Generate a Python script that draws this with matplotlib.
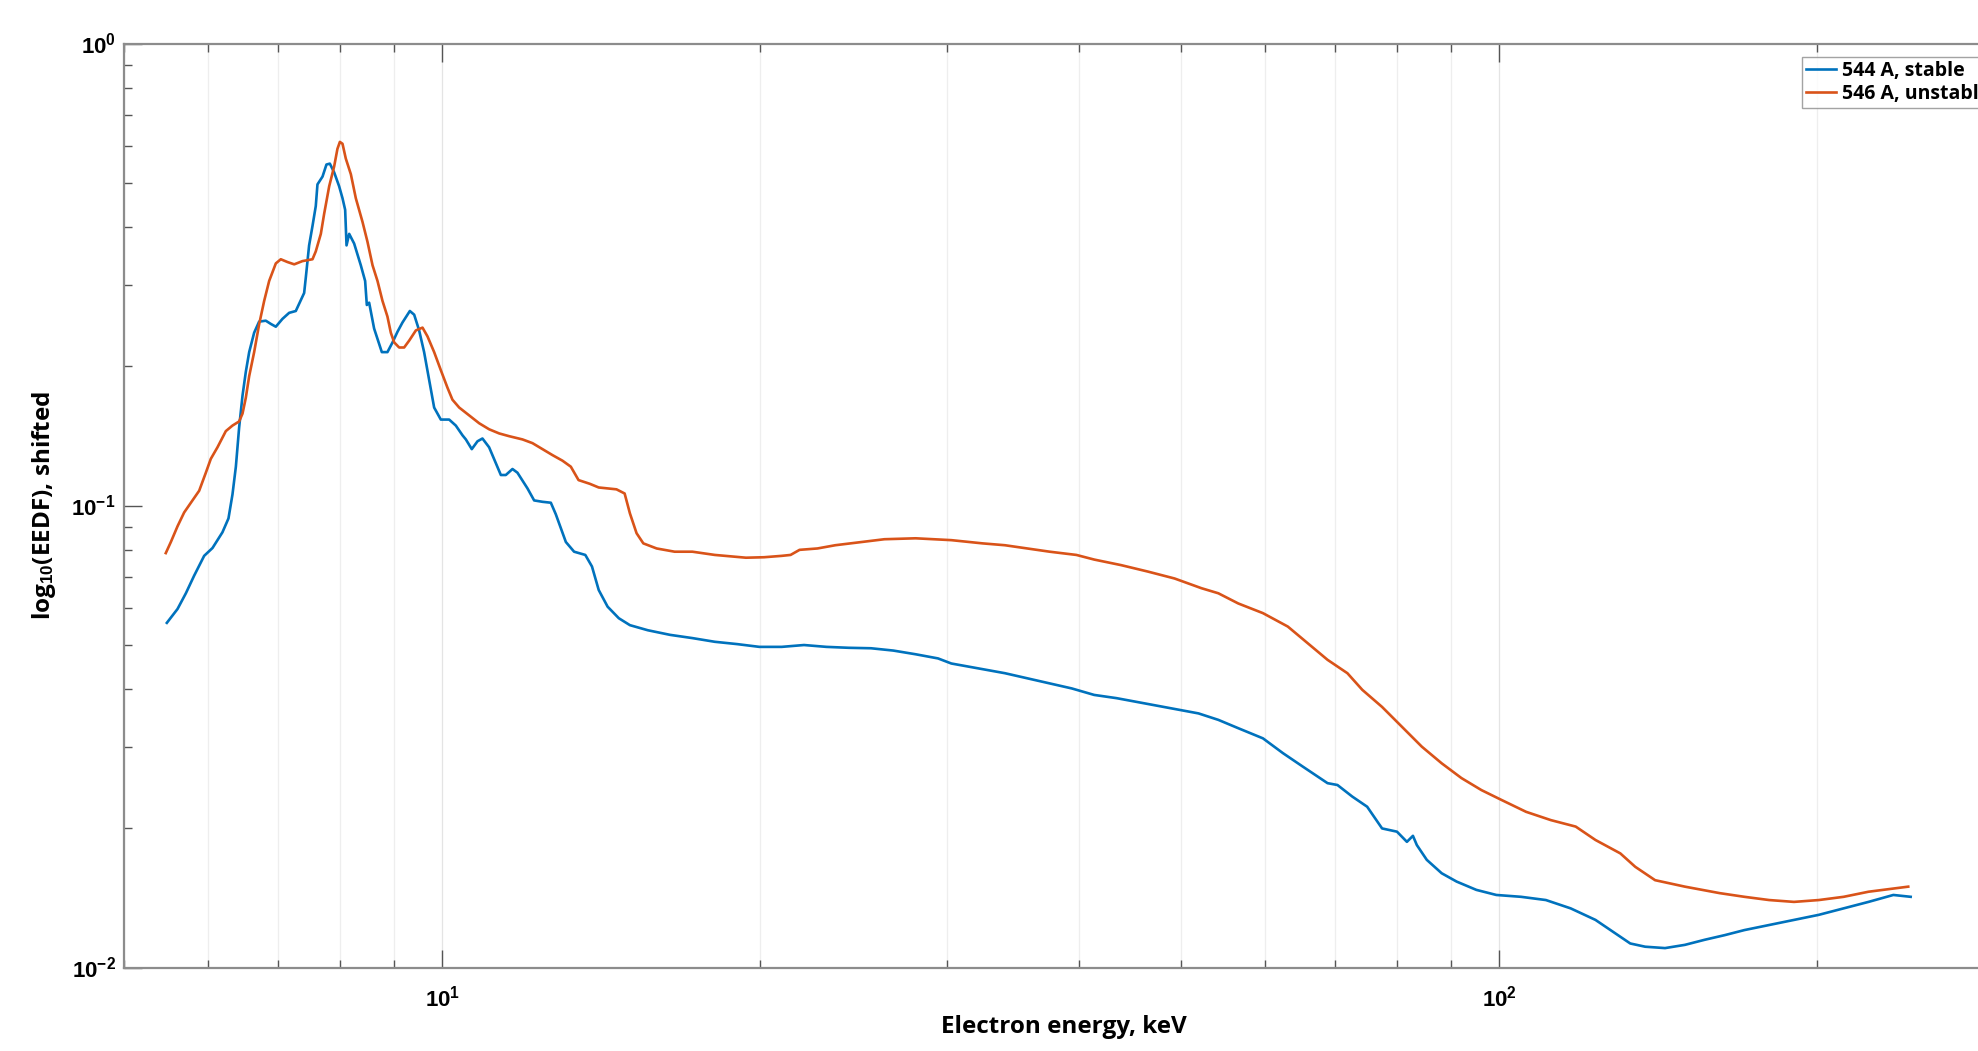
import numpy as np
import matplotlib
matplotlib.use("Agg")
import matplotlib.pyplot as plt
from matplotlib.ticker import LogLocator, NullFormatter, FixedLocator, FixedFormatter

# ---- data (stored as log10) ----
stable_label = "544 A, stable"
unstable_label = "546 A, unstable"

stable_log_energy = [
    0.7395, 0.7496, 0.7575, 0.7653, 0.7748, 0.7827, 0.7921, 0.7978, 0.8016, 0.8048,
    0.8079, 0.8111, 0.8142, 0.8174, 0.8221, 0.8268, 0.8331, 0.8379, 0.8426, 0.8489,
    0.8552, 0.8615, 0.8694, 0.8710, 0.8741, 0.8773, 0.8804, 0.8820, 0.8868, 0.8905,
    0.8937, 0.8978, 0.9025, 0.9057, 0.9082, 0.9095, 0.9120, 0.9167, 0.9230, 0.9271,
    0.9287, 0.9309, 0.9356, 0.9404, 0.9429, 0.9482, 0.9530, 0.9577, 0.9624, 0.9694,
    0.9735, 0.9782, 0.9829, 0.9877, 0.9924, 0.9987, 1.0066, 1.0129, 1.0192, 1.0224,
    1.0280, 1.0334, 1.0381, 1.0444, 1.0507, 1.0555, 1.0602, 1.0665, 1.0712, 1.0760,
    1.0807, 1.0870, 1.0949, 1.1028, 1.1075, 1.1170, 1.1248, 1.1354, 1.1417, 1.1481,
    1.1565, 1.1671, 1.1776, 1.1945, 1.2156, 1.2367, 1.2579, 1.2790, 1.3001, 1.3212,
    1.3423, 1.3635, 1.3846, 1.4057, 1.4268, 1.4479, 1.4691, 1.4817, 1.4986, 1.5155,
    1.5324, 1.5536, 1.5747, 1.5957, 1.6168, 1.6380, 1.7155, 1.7343, 1.7531, 1.7765,
    1.7954, 1.8141, 1.8376, 1.8470, 1.8610, 1.8751, 1.8892, 1.9033, 1.9127, 1.9184,
    1.9221, 1.9315, 1.9456, 1.9597, 1.9784, 1.9973, 2.0207, 2.0442, 2.0676, 2.0911,
    2.1099, 2.1240, 2.1381, 2.1569, 2.1757, 2.1944, 2.2133, 2.2320, 2.2554, 2.2789,
    2.3024, 2.3259, 2.3494, 2.3729, 2.3893,
]
stable_log_eedf = [
    -1.254, -1.224, -1.190, -1.152, -1.109, -1.092, -1.058, -1.028, -0.976, -0.916,
    -0.831, -0.762, -0.711, -0.668, -0.626, -0.602, -0.600, -0.607, -0.613, -0.596,
    -0.583, -0.579, -0.540, -0.506, -0.437, -0.395, -0.352, -0.305, -0.288, -0.262,
    -0.260, -0.279, -0.309, -0.335, -0.360, -0.437, -0.412, -0.433, -0.480, -0.514,
    -0.566, -0.561, -0.617, -0.651, -0.668, -0.668, -0.647, -0.624, -0.604, -0.579,
    -0.587, -0.621, -0.668, -0.728, -0.788, -0.814, -0.814, -0.827, -0.848, -0.857,
    -0.878, -0.861, -0.855, -0.874, -0.908, -0.934, -0.934, -0.921, -0.929, -0.946,
    -0.963, -0.989, -0.992, -0.994, -1.019, -1.079, -1.100, -1.107, -1.132, -1.183,
    -1.219, -1.244, -1.259, -1.270, -1.280, -1.287, -1.295, -1.300, -1.306, -1.306,
    -1.302, -1.306, -1.308, -1.309, -1.314, -1.322, -1.331, -1.342, -1.349, -1.356,
    -1.363, -1.374, -1.385, -1.396, -1.410, -1.417, -1.450, -1.464, -1.482, -1.504,
    -1.536, -1.565, -1.601, -1.605, -1.630, -1.652, -1.699, -1.706, -1.728, -1.715,
    -1.735, -1.767, -1.796, -1.814, -1.832, -1.843, -1.847, -1.854, -1.872, -1.897,
    -1.926, -1.948, -1.955, -1.958, -1.951, -1.940, -1.930, -1.919, -1.908, -1.897,
    -1.886, -1.872, -1.858, -1.843, -1.847,
]

unstable_log_energy = [
    0.7385, 0.7433, 0.7496, 0.7559, 0.7622, 0.7701, 0.7764, 0.7811, 0.7874, 0.7953,
    0.8016, 0.8079, 0.8111, 0.8142, 0.8174, 0.8221, 0.8268, 0.8316, 0.8363, 0.8426,
    0.8473, 0.8536, 0.8600, 0.8678, 0.8773, 0.8804, 0.8852, 0.8883, 0.8931, 0.8978,
    0.9009, 0.9032, 0.9057, 0.9088, 0.9136, 0.9183, 0.9246, 0.9293, 0.9341, 0.9388,
    0.9435, 0.9482, 0.9514, 0.9546, 0.9593, 0.9640, 0.9688, 0.9751, 0.9814, 0.9861,
    0.9924, 0.9987, 1.0050, 1.0097, 1.0161, 1.0255, 1.0350, 1.0444, 1.0539, 1.0634,
    1.0760, 1.0854, 1.0949, 1.1044, 1.1138, 1.1217, 1.1290, 1.1396, 1.1481, 1.1649,
    1.1726, 1.1776, 1.1839, 1.1903, 1.2029, 1.2199, 1.2367, 1.2579, 1.2874, 1.3044,
    1.3212, 1.3296, 1.3381, 1.3550, 1.3719, 1.3930, 1.4184, 1.4479, 1.4817, 1.5113,
    1.5324, 1.5536, 1.5747, 1.6000, 1.6168, 1.6422, 1.6676, 1.6929, 1.7183, 1.7343,
    1.7531, 1.7765, 1.8000, 1.8188, 1.8376, 1.8564, 1.8705, 1.8892, 1.9080, 1.9268,
    1.9456, 1.9643, 1.9832, 2.0019, 2.0254, 2.0489, 2.0724, 2.0911, 2.1146, 2.1287,
    2.1475, 2.1757, 2.1851, 2.2085, 2.2320, 2.2554, 2.2789, 2.3024, 2.3259, 2.3494,
    2.3729, 2.3870,
]
unstable_log_eedf = [
    -1.103, -1.079, -1.045, -1.015, -0.994, -0.968, -0.929, -0.899, -0.874, -0.839,
    -0.827, -0.818, -0.801, -0.767, -0.720, -0.668, -0.608, -0.557, -0.514, -0.476,
    -0.467, -0.473, -0.478, -0.471, -0.467, -0.450, -0.412, -0.369, -0.309, -0.266,
    -0.228, -0.213, -0.217, -0.249, -0.283, -0.335, -0.386, -0.429, -0.480, -0.514,
    -0.557, -0.591, -0.626, -0.647, -0.658, -0.658, -0.643, -0.621, -0.615, -0.634,
    -0.668, -0.707, -0.745, -0.771, -0.788, -0.805, -0.822, -0.835, -0.844, -0.850,
    -0.857, -0.865, -0.878, -0.891, -0.903, -0.916, -0.945, -0.953, -0.961, -0.965,
    -0.974, -1.017, -1.060, -1.082, -1.093, -1.100, -1.100, -1.107, -1.113, -1.112,
    -1.109, -1.107, -1.096, -1.093, -1.086, -1.080, -1.073, -1.071, -1.075, -1.082,
    -1.086, -1.093, -1.100, -1.107, -1.117, -1.129, -1.143, -1.158, -1.179, -1.190,
    -1.212, -1.233, -1.262, -1.298, -1.334, -1.363, -1.399, -1.436, -1.479, -1.522,
    -1.558, -1.590, -1.616, -1.637, -1.663, -1.681, -1.695, -1.724, -1.753, -1.782,
    -1.811, -1.825, -1.829, -1.839, -1.847, -1.854, -1.858, -1.854, -1.847, -1.836,
    -1.829, -1.825,
]

x_major_ticks = [10, 100]
x_major_labels = [r"$\mathbf{10^{1}}$", r"$\mathbf{10^{2}}$"]
y_major_ticks = [0.01, 0.1, 1.0]
y_major_labels = [r"$\mathbf{10^{-2}}$", r"$\mathbf{10^{-1}}$", r"$\mathbf{10^{0}}$"]
x_limits = (5, 300)
y_limits = (0.01, 1.0)

x_label = "Electron energy, keV"
y_label = r"log$_{\mathbf{10}}$(EEDF), shifted"

# ---- style ----
plt.rcParams["font.family"] = ["Open Sans", "DejaVu Sans"]
plt.rcParams["font.weight"] = "bold"
plt.rcParams["mathtext.fontset"] = "custom"
plt.rcParams["mathtext.rm"] = "Liberation Sans:bold"
plt.rcParams["mathtext.bf"] = "Liberation Sans:bold"
plt.rcParams["mathtext.it"] = "Liberation Sans:bold"

blue = "#0072BD"
orange = "#D95319"

W, H = 1978, 1051
fig = plt.figure(figsize=(W / 100, H / 100), dpi=100)
fig.patch.set_facecolor("white")

ax_left, ax_right_px = 124, 2003.5
ax_top, ax_bottom = 43.5, 967.5
ax = fig.add_axes([ax_left / W, 1 - ax_bottom / H,
                   (ax_right_px - ax_left) / W, (ax_bottom - ax_top) / H])

energy_s = 10 ** np.array(stable_log_energy)
eedf_s = 10 ** np.array(stable_log_eedf)
energy_u = 10 ** np.array(unstable_log_energy)
eedf_u = 10 ** np.array(unstable_log_eedf)

ax.plot(energy_s, eedf_s, color=blue, lw=1.9, label=stable_label, zorder=3)
ax.plot(energy_u, eedf_u, color=orange, lw=1.9, label=unstable_label, zorder=3)

ax.set_xscale("log")
ax.set_yscale("log")
ax.set_xlim(*x_limits)
ax.set_ylim(*y_limits)

ax.xaxis.set_major_locator(FixedLocator(x_major_ticks))
ax.xaxis.set_major_formatter(FixedFormatter(x_major_labels))
ax.xaxis.set_minor_locator(LogLocator(base=10, subs=np.arange(2, 10), numticks=20))
ax.xaxis.set_minor_formatter(NullFormatter())
ax.yaxis.set_major_locator(FixedLocator(y_major_ticks))
ax.yaxis.set_major_formatter(FixedFormatter(y_major_labels))
ax.yaxis.set_minor_locator(LogLocator(base=10, subs=np.arange(2, 10), numticks=20))
ax.yaxis.set_minor_formatter(NullFormatter())

ax.tick_params(which="both", direction="in", top=True, right=True,
               color="#555555", width=1.0)
ax.tick_params(which="major", length=13, labelsize=16)
ax.tick_params(which="minor", length=6)
ax.tick_params(axis="x", which="major", pad=13)
ax.tick_params(axis="y", which="major", pad=6)

ax.grid(True, axis="x", which="major", color="#e4e4e4", lw=0.9, ls="-", zorder=0)
ax.grid(True, axis="x", which="minor", color="#eeeeee", lw=0.9, ls="-", zorder=0)

for s in ax.spines.values():
    s.set_color("#8c8c8c")
    s.set_linewidth(1.6)

ax.set_xlabel(x_label, fontsize=17.5, fontweight="bold")
ax.set_ylabel(y_label, fontsize=17.5, fontweight="bold")
ax.xaxis.set_label_coords(0.5, -(1015 - ax_bottom) / (ax_bottom - ax_top))
ax.yaxis.set_label_coords((58 - ax_left) / (ax_right_px - ax_left), 0.5)

leg = ax.legend(loc="upper left", bbox_to_anchor=(1802 / W, 1 - 57 / H),
                bbox_transform=fig.transFigure, borderaxespad=0,
                prop={"size": 14, "weight": "bold"}, frameon=True, fancybox=False,
                handlelength=1.55, handletextpad=0.3, borderpad=0.2,
                labelspacing=0.15)
leg.get_frame().set_edgecolor("#8c8c8c")
leg.get_frame().set_linewidth(1.0)

fig.savefig("out.png", dpi=100, facecolor="white")
